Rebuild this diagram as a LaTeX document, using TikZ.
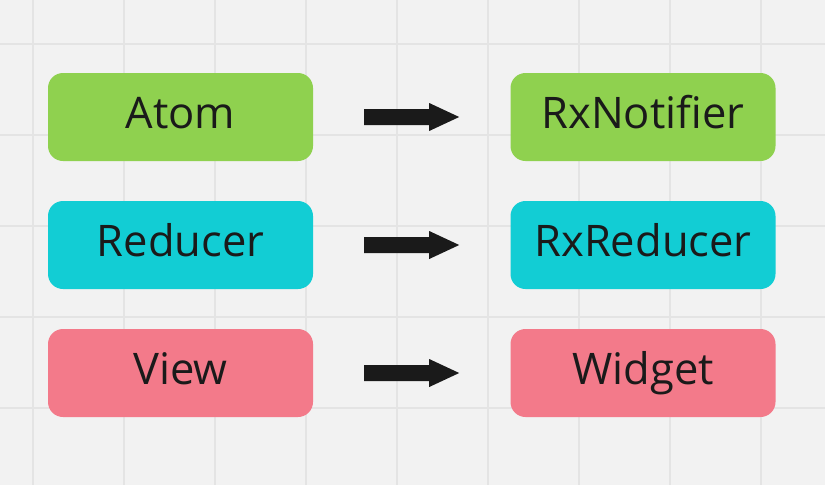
\documentclass[tikz,border=0pt]{standalone}
\usepackage{fontspec}
\setmainfont{Open Sans}
\definecolor{bg}{HTML}{F2F2F2}
\definecolor{gridc}{HTML}{E4E4E4}
\definecolor{boxgreen}{HTML}{8FD14F}
\definecolor{boxcyan}{HTML}{12CDD4}
\definecolor{boxpink}{HTML}{F37A8A}
\definecolor{ink}{HTML}{1A1A1A}
\begin{document}
\begin{tikzpicture}[x=1pt,y=-1pt,
  card/.style={rounded corners=15pt, minimum width=265pt, minimum height=88pt,
    inner sep=0pt, text=ink, font=\fontsize{43.5}{50}\selectfont,
    text height=35pt, text depth=12pt},
  bigarrow/.style={fill=ink, draw=none}]
\fill[bg] (0,0) rectangle (825,485);
\useasboundingbox (0,0) rectangle (825,485);
\foreach \x in {33,124,215,306,397,488,579,670,761}
  \draw[gridc, line width=1.5pt] (\x,0) -- (\x,485);
\foreach \y in {44,135,226,317,408}
  \draw[gridc, line width=1.5pt] (0,\y) -- (825,\y);

\node[card, fill=boxgreen] (atom) at (180.5,117) {Atom};
\node[card, fill=boxgreen] (rxn) at (643,117) {RxNotifier};
\node[card, fill=boxcyan] (red) at (180.5,245) {Reducer};
\node[card, fill=boxcyan] (rxr) at (643,245) {RxReducer};
\node[card, fill=boxpink] (view) at (180.5,373) {View};
\node[card, fill=boxpink] (wid) at (643,373) {Widget};

\foreach \a/\b in {atom/rxn, red/rxr, view/wid}{
  \path (\a.east) ++(51,0) coordinate (s\a);
  \fill[bigarrow] (s\a) ++(0,-8) -- ++(65,0) -- ++(0,-6) -- ++(30,14)
     -- ++(-30,14) -- ++(0,-6) -- ++(-65,0) -- cycle;
}
\end{tikzpicture}
\end{document}
